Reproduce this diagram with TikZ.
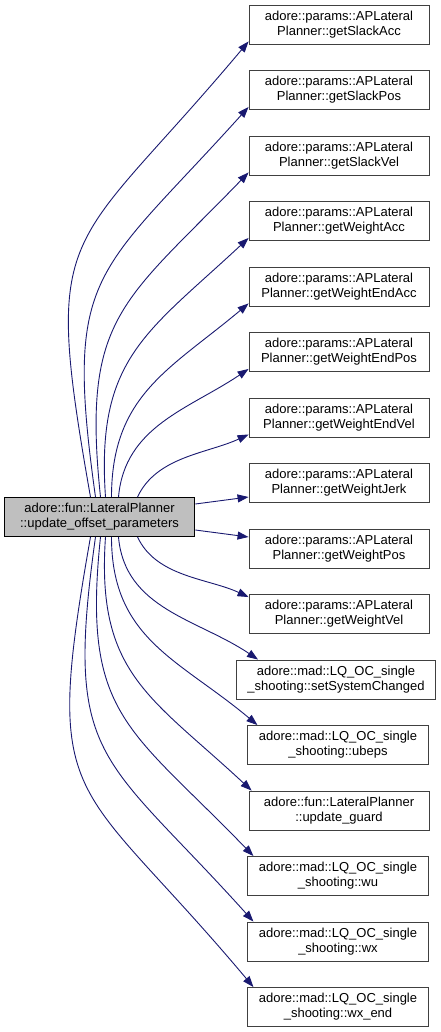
\documentclass[tikz,border=0pt]{standalone}
\usepackage{fontspec}
\setmainfont{Liberation Sans}
\usepackage{xcolor}
\usetikzlibrary{arrows.meta}
\definecolor{edgeblue}{HTML}{191970}
\definecolor{rootgray}{HTML}{BFBFBF}
\definecolor{framegray}{HTML}{404040}

\begin{document}
\begin{tikzpicture}[x=1pt, y=1pt,
    fn/.style={rectangle, draw=framegray, fill=white, line width=0.9pt, align=center, inner xsep=11pt, minimum width=180pt, minimum height=39pt, font=\fontsize{13}{15}\selectfont},
    root/.style={fn, draw=black, fill=rootgray, inner xsep=16pt, minimum width=0pt},
    arrow/.style={-{Triangle[length=11pt,width=8pt]}, color=edgeblue, line width=0.9pt}
]
    \useasboundingbox (0,0) rectangle (441,-1032);

    \node[root] (offset) at (99.5,-517) {adore::fun::LateralPlanner\\::update\_offset\_parameters};

    \node[fn] (slackacc) at (339,-24.5) {adore::params::APLateral\\Planner::getSlackAcc};
    \node[fn] (slackpos) at (339,-90) {adore::params::APLateral\\Planner::getSlackPos};
    \node[fn] (slackvel) at (339,-155.5) {adore::params::APLateral\\Planner::getSlackVel};
    \node[fn] (weightacc) at (339,-221) {adore::params::APLateral\\Planner::getWeightAcc};
    \node[fn] (weightendacc) at (339,-286.5) {adore::params::APLateral\\Planner::getWeightEndAcc};
    \node[fn] (weightendpos) at (339,-352) {adore::params::APLateral\\Planner::getWeightEndPos};
    \node[fn] (weightendvel) at (339,-417.5) {adore::params::APLateral\\Planner::getWeightEndVel};
    \node[fn] (weightjerk) at (339,-483) {adore::params::APLateral\\Planner::getWeightJerk};
    \node[fn] (weightpos) at (339,-548.5) {adore::params::APLateral\\Planner::getWeightPos};
    \node[fn] (weightvel) at (339,-614) {adore::params::APLateral\\Planner::getWeightVel};
    \node[fn] (setchanged) at (336,-679.5) {adore::mad::LQ\_OC\_single\\\_shooting::setSystemChanged};
    \node[fn] (ubeps) at (338,-745) {adore::mad::LQ\_OC\_single\\\_shooting::ubeps};
    \node[fn] (guard) at (339,-810.5) {adore::fun::LateralPlanner\\::update\_guard};
    \node[fn] (wu) at (338,-876) {adore::mad::LQ\_OC\_single\\\_shooting::wu};
    \node[fn] (wx) at (338,-941.5) {adore::mad::LQ\_OC\_single\\\_shooting::wx};
    \node[fn] (wxend) at (338,-1007) {adore::mad::LQ\_OC\_single\\\_shooting::wx\_end};

    \draw[arrow] ([xshift=-9pt]offset.north) to[out=100, in=230, looseness=1.5] ([yshift=3pt]slackacc.south west);
    \draw[arrow] ([xshift=-4pt]offset.north) to[out=98, in=228, looseness=1.4] ([yshift=3pt]slackpos.south west);
    \draw[arrow] ([xshift=1pt]offset.north) to[out=96, in=226, looseness=1.3] ([yshift=3pt]slackvel.south west);
    \draw[arrow] ([xshift=6pt]offset.north) to[out=94, in=223, looseness=1.2] ([yshift=3pt]weightacc.south west);
    \draw[arrow] ([xshift=12pt]offset.north) to[out=90, in=220, looseness=1.1] ([yshift=3pt]weightendacc.south west);
    \draw[arrow] ([xshift=19pt]offset.north) to[out=85, in=214, looseness=1.0] ([yshift=3pt]weightendpos.south west);
    \draw[arrow] ([xshift=38pt]offset.north) to[out=65, in=205, looseness=0.9] ([yshift=3pt]weightendvel.south west);
    \draw[arrow] ([yshift=13pt]offset.east) -- ([yshift=-14pt]weightjerk.west);
    \draw[arrow] ([yshift=-13pt]offset.east) -- ([yshift=11.5pt]weightpos.west);
    \draw[arrow] ([xshift=38pt]offset.south) to[out=-65, in=155, looseness=0.9] ([yshift=-3pt]weightvel.north west);
    \draw[arrow] ([xshift=19pt]offset.south) to[out=-85, in=146, looseness=1.0] ([xshift=22pt]setchanged.north west);
    \draw[arrow] ([xshift=12pt]offset.south) to[out=-90, in=140, looseness=1.1] ([xshift=10pt]ubeps.north west);
    \draw[arrow] ([xshift=6pt]offset.south) to[out=-94, in=137, looseness=1.2] ([xshift=3pt]guard.north west);
    \draw[arrow] ([xshift=1pt]offset.south) to[out=-96, in=134, looseness=1.3] ([xshift=6pt]wu.north west);
    \draw[arrow] ([xshift=-4pt]offset.south) to[out=-98, in=132, looseness=1.4] ([xshift=6pt]wx.north west);
    \draw[arrow] ([xshift=-9pt]offset.south) to[out=-100, in=130, looseness=1.5] ([xshift=6pt]wxend.north west);
\end{tikzpicture}
\end{document}
